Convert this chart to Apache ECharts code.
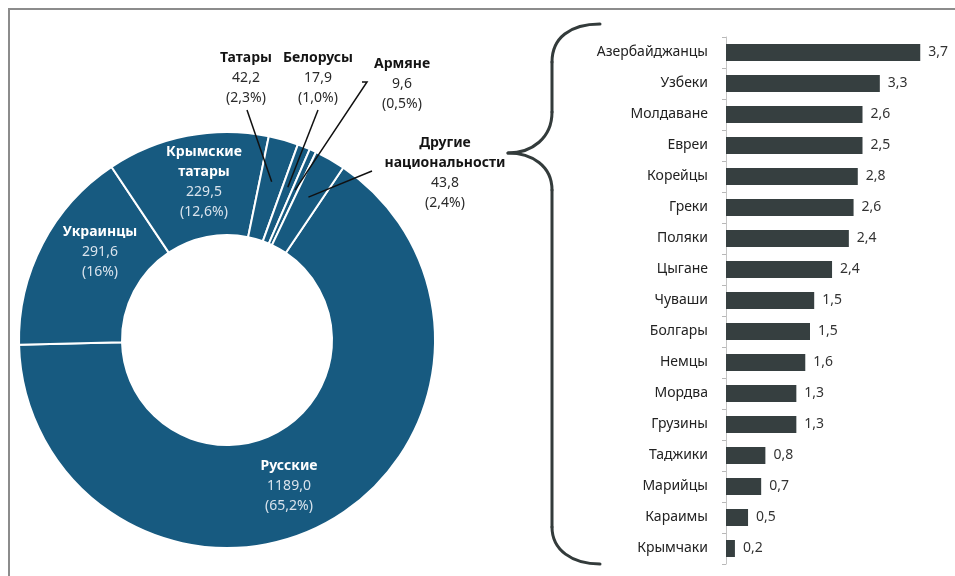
<!DOCTYPE html>
<html>
<head>
<meta charset="utf-8">
<script src="https://cdn.jsdelivr.net/npm/echarts@6/dist/echarts.min.js"></script>
<style>
html,body{margin:0;padding:0;background:#fff;}
#c{width:955px;height:576px;}
</style>
</head>
<body>
<div id="c"></div>
<script>
// ---- Donut data ----
const pieNames = ['Русские', 'Украинцы', 'Крымские\nтатары', 'Татары', 'Белорусы', 'Армяне', 'Другие\nнациональности'];
const pieValues = [1189.0, 291.6, 229.5, 42.2, 17.9, 9.6, 43.8];
const piePctText = ['65,2%', '16%', '12,6%', '2,3%', '1,0%', '0,5%', '2,4%'];

// ---- Bar data (other nationalities) ----
const barCats = ['Азербайджанцы', 'Узбеки', 'Молдаване', 'Евреи', 'Корейцы', 'Греки', 'Поляки', 'Цыгане', 'Чуваши', 'Болгары', 'Немцы', 'Мордва', 'Грузины', 'Таджики', 'Марийцы', 'Караимы', 'Крымчаки'];
const barValues = [3.7, 2.93, 2.6, 2.6, 2.51, 2.43, 2.34, 2.02, 1.68, 1.6, 1.51, 1.34, 1.34, 0.75, 0.67, 0.42, 0.17];
const barLabels = ['3,7', '3,3', '2,6', '2,5', '2,8', '2,6', '2,4', '2,4', '1,5', '1,5', '1,6', '1,3', '1,3', '0,8', '0,7', '0,5', '0,2'];

// ---- Layout (label placement, styling only) ----
const insideIdx = [0, 1, 2];
const labelPos = [[289, 456], [100, 222], [204, 142], [246, 48], [318, 48], [402, 54], [445, 133]];
const lineEnd = [null, null, null, [[247, 110]], [[318, 110]], [[367, 82], [362, 82]], [[372, 171]]];

const FONT = 'Noto Sans';
const chart = echarts.init(document.getElementById('c'), null, {renderer: 'canvas'});

function fmtNum(v) { return v.toFixed(1).replace('.', ','); }

const pieData = pieValues.map((v, i) => ({
  value: v,
  name: pieNames[i],
  label: {position: insideIdx.indexOf(i) >= 0 ? 'inside' : 'outside'},
  labelLine: {show: false}
}));

const braceStyle = {fill: 'none', stroke: '#333b3b', lineWidth: 3, lineCap: 'round'};
function bz(x1, y1, c1x, c1y, c2x, c2y, x2, y2) {
  return {type: 'bezierCurve', z: 100, silent: true,
    shape: {x1: x1, y1: y1, cpx1: c1x, cpy1: c1y, cpx2: c2x, cpy2: c2y, x2: x2, y2: y2}, style: braceStyle};
}
function ln(x1, y1, x2, y2) {
  return {type: 'line', z: 100, silent: true, shape: {x1: x1, y1: y1, x2: x2, y2: y2}, style: braceStyle};
}

const baseGraphic = [
  {type: 'rect', z: 100, silent: true, shape: {x: 9, y: 9, width: 980, height: 620},
    style: {fill: 'none', stroke: '#8c8c8c', lineWidth: 2}},
  bz(600, 24, 570, 24, 552, 38, 552, 62),
  ln(552, 62, 552, 112),
  bz(552, 112, 552, 138, 532, 153, 508, 153),
  bz(508, 153, 532, 153, 552, 166, 552, 190),
  ln(552, 190, 552, 527),
  bz(552, 527, 552, 550, 572, 564, 600, 564)
];

const option = {
  animation: false,
  backgroundColor: '#fff',
  textStyle: {fontFamily: FONT},
  graphic: baseGraphic,
  grid: {left: 726, top: 37, height: 527, right: 19},
  xAxis: {type: 'value', min: 0, max: 4, show: false},
  yAxis: {
    type: 'category', inverse: true, data: barCats,
    axisLine: {lineStyle: {color: '#c4c4c4', width: 1}},
    axisTick: {show: true, length: 4, lineStyle: {color: '#b8b8b8'}},
    axisLabel: {fontSize: 14, color: '#222', margin: 18, fontFamily: FONT}
  },
  series: [
    {
      type: 'pie',
      center: [227, 340],
      radius: [105, 208],
      startAngle: 56,
      clockwise: true,
      avoidLabelOverlap: false,
      itemStyle: {color: '#175a80', borderColor: '#fff', borderWidth: 2},
      emphasis: {disabled: true},
      data: pieData,
      label: {
        show: true,
        fontFamily: FONT,
        lineHeight: 20,
        formatter: p => {
          const inside = insideIdx.indexOf(p.dataIndex) >= 0;
          const n = inside ? 'ni' : 'no';
          const v = inside ? 'vi' : 'vo';
          const nameLines = pieNames[p.dataIndex].split('\n').map(s => '{' + n + '|' + s + '}').join('\n');
          return nameLines + '\n{' + v + '|' + fmtNum(pieValues[p.dataIndex]) + '}\n{' + v + '|(' + piePctText[p.dataIndex] + ')}';
        },
        rich: {
          ni: {fontSize: 14, fontWeight: 'bold', color: '#ffffff', lineHeight: 20, fontFamily: FONT, align: 'center'},
          vi: {fontSize: 14, color: '#d9e3ec', lineHeight: 20, fontFamily: FONT, align: 'center'},
          no: {fontSize: 14, fontWeight: 'bold', color: '#141414', lineHeight: 20, fontFamily: FONT, align: 'center'},
          vo: {fontSize: 14, color: '#2a2a2a', lineHeight: 20, fontFamily: FONT, align: 'center'}
        }
      },
      labelLayout: params => {
        const i = params.dataIndex;
        return {x: labelPos[i][0], y: labelPos[i][1], align: 'center', verticalAlign: 'top'};
      }
    },
    {
      type: 'bar',
      data: barValues,
      barWidth: 17,
      itemStyle: {color: '#363f40'},
      emphasis: {disabled: true},
      label: {
        show: true, position: 'right', distance: 8, fontSize: 14, color: '#333', fontFamily: FONT,
        formatter: p => barLabels[p.dataIndex]
      }
    }
  ]
};
chart.setOption(option);

// Leader lines: start inside each slice (from the library's pie layout), end at the label
const pieData0 = chart.getModel().getSeriesByIndex(0).getData();
const leaders = [];
lineEnd.forEach((ends, i) => {
  if (!ends) return;
  const lay = pieData0.getItemLayout(i);
  const mid = (lay.startAngle + lay.endAngle) / 2;
  const rr = (lay.r + lay.r0) / 2 + 8;
  const p0 = [lay.cx + rr * Math.cos(mid), lay.cy + rr * Math.sin(mid)];
  leaders.push({type: 'polyline', z: 120, silent: true,
    shape: {points: [p0].concat(ends)},
    style: {fill: 'none', stroke: '#111', lineWidth: 1.5}});
});
chart.setOption({graphic: baseGraphic.concat(leaders)});
</script>
</body>
</html>
